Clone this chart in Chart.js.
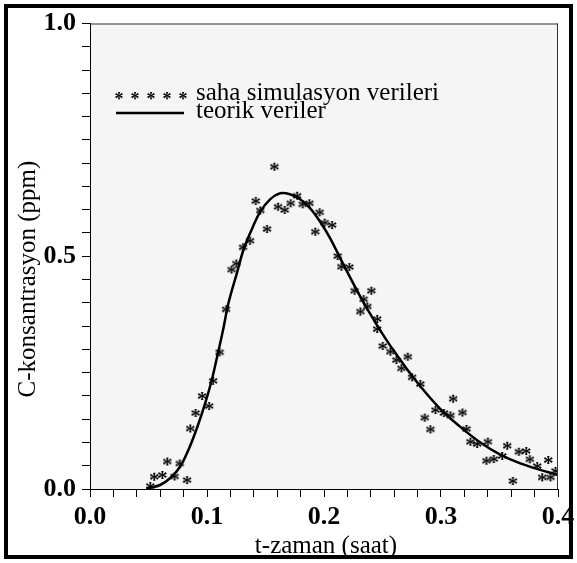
<!DOCTYPE html>
<html><head><meta charset="utf-8">
<script src="https://cdn.jsdelivr.net/npm/chart.js@4/dist/chart.umd.min.js"></script>
<style>html,body{margin:0;padding:0;background:#fff;overflow:hidden}#wrap{width:577px;height:563px;position:relative}</style>
</head><body><div id="wrap"><canvas id="c" width="577" height="563"></canvas></div>
<script>
// ---- data ----
const simT = [0.0513,0.0547,0.0616,0.0659,0.0721,0.0765,0.0827,0.0855,0.0901,0.0956,0.1016,0.1050,0.1106,0.1161,0.1208,0.1249,0.1306,0.1365,0.1415,0.1454,0.1511,0.1574,0.1605,0.1662,0.1713,0.1768,0.1816,0.1873,0.1924,0.1961,0.2004,0.2067,0.2115,0.2147,0.2215,0.2260,0.2309,0.2337,0.2369,0.2403,0.2453,0.2452,0.2500,0.2566,0.2617,0.2660,0.2714,0.2751,0.2822,0.2859,0.2908,0.2951,0.3023,0.3079,0.3102,0.3182,0.3216,0.3250,0.3307,0.3387,0.3398,0.3449,0.3521,0.3564,0.3612,0.3663,0.3726,0.3757,0.3820,0.3863,0.3915,0.3934,0.3977];
const simC = [0.0064,0.0264,0.0301,0.0591,0.0269,0.0548,0.0193,0.1300,0.1633,0.1998,0.1783,0.2324,0.2937,0.3860,0.4715,0.4844,0.5192,0.5334,0.6187,0.5983,0.5585,0.6924,0.6064,0.5994,0.6138,0.6301,0.6116,0.6138,0.5527,0.5944,0.5721,0.5671,0.5005,0.4776,0.4769,0.4260,0.3813,0.4077,0.3921,0.4260,0.3652,0.3437,0.3072,0.2950,0.2771,0.2593,0.2842,0.2400,0.2256,0.1532,0.1282,0.1697,0.1633,0.1579,0.1940,0.1643,0.1289,0.1016,0.0967,0.0608,0.1016,0.0644,0.0709,0.0930,0.0172,0.0801,0.0816,0.0638,0.0494,0.0251,0.0623,0.0251,0.0387];
const theoT = [0.0480,0.0499,0.0599,0.0684,0.0770,0.0841,0.0918,0.0984,0.1041,0.1090,0.1140,0.1183,0.1255,0.1311,0.1368,0.1454,0.1539,0.1625,0.1710,0.1796,0.1882,0.1967,0.2053,0.2138,0.2224,0.2309,0.2395,0.2480,0.2566,0.2765,0.2993,0.3165,0.3336,0.3507,0.3678,0.3849,0.4000];
const theoC = [0.0000,0.0015,0.0086,0.0230,0.0479,0.0838,0.1338,0.1841,0.2342,0.2880,0.3450,0.3989,0.4634,0.5134,0.5493,0.5951,0.6223,0.6352,0.6331,0.6223,0.6030,0.5742,0.5386,0.4960,0.4540,0.4140,0.3760,0.3410,0.3080,0.2390,0.1720,0.1335,0.1000,0.0740,0.0550,0.0410,0.0300];
const xTickLabels = ['0.0','0.1','0.2','0.3','0.4'];
const yTickLabels = ['0.0','0.5','1.0'];
const seriesNames = ['saha simulasyon verileri','teorik veriler'];
const xTitle = 't-zaman (saat)';
const yTitle = 'C-konsantrasyon (ppm)';

const SERIF = '"Liberation Serif","Times New Roman",serif';

function makeStar(size, fontPx, weight){
  const c = document.createElement('canvas'); c.width = c.height = size;
  const g = c.getContext('2d');
  g.font = weight + ' ' + fontPx + 'px ' + SERIF;
  g.fillStyle = '#000';
  g.textBaseline = 'alphabetic';
  const m = g.measureText('*');
  const w = m.actualBoundingBoxLeft + m.actualBoundingBoxRight;
  const h = m.actualBoundingBoxAscent + m.actualBoundingBoxDescent;
  g.fillText('*', size/2 - w/2 + m.actualBoundingBoxLeft, size/2 + h/2 - m.actualBoundingBoxDescent);
  return c;
}
const starPlot = makeStar(16, 21, 'bold');
const starLegend = makeStar(14, 18, 'bold');

const simPts = simT.map((t,i)=>({x:t, y:simC[i]}));
const theoPts = theoT.map((t,i)=>({x:t, y:theoC[i]}));

const decor = {
  id: 'decor',
  beforeDraw(chart){
    const {ctx, chartArea:a} = chart;
    ctx.save();
    ctx.fillStyle = '#fff'; ctx.fillRect(0,0,chart.width,chart.height);
    ctx.fillStyle = '#f5f5f5'; ctx.fillRect(a.left, a.top, a.right-a.left, a.bottom-a.top);
    ctx.restore();
  },
  afterDraw(chart){
    const {ctx, chartArea:a} = chart;
    ctx.save();
    // plot border top / right
    ctx.strokeStyle = '#333'; ctx.lineWidth = 1;
    ctx.beginPath();
    ctx.moveTo(a.left, a.top+0.5); ctx.lineTo(a.right, a.top+0.5);
    ctx.moveTo(a.right-0.5, a.top); ctx.lineTo(a.right-0.5, a.bottom);
    ctx.stroke();
    // outer frame
    ctx.strokeStyle = '#000'; ctx.lineWidth = 4;
    ctx.strokeRect(6, 6, 565, 551);
    // legend
    for (let i=0;i<5;i++) ctx.drawImage(starLegend, 119 + i*16 - 7, 96 - 7);
    ctx.strokeStyle = '#000'; ctx.lineWidth = 2.5;
    ctx.beginPath(); ctx.moveTo(116, 113); ctx.lineTo(184, 113); ctx.stroke();
    ctx.fillStyle = '#000';
    ctx.font = '25px ' + SERIF;
    ctx.textAlign = 'left'; ctx.textBaseline = 'alphabetic';
    ctx.fillText(seriesNames[0], 196, 100);
    ctx.fillText(seriesNames[1], 196, 118);
    // axis titles
    ctx.textAlign = 'center'; ctx.textBaseline = 'middle';
    ctx.fillText(xTitle, 326, 546);
    ctx.translate(28, 279); ctx.rotate(-Math.PI/2);
    ctx.fillText(yTitle, 0, 0);
    ctx.restore();
  }
};

new Chart(document.getElementById('c'), {
  type: 'scatter',
  data: {
    datasets: [
      { label: seriesNames[0], data: simPts, showLine: false, pointStyle: starPlot, pointRadius: 5, order: 1 },
      { label: seriesNames[1], data: theoPts, showLine: true, borderColor: '#000', borderWidth: 2.5, pointRadius: 0, tension: 0.35, order: 2 }
    ]
  },
  options: {
    responsive: false, animation: false, devicePixelRatio: 1, events: [],
    layout: { padding: { left: 0, top: 23.5, right: 19, bottom: 0 } },
    plugins: { legend: { display: false }, tooltip: { enabled: false }, title: { display: false } },
    scales: {
      x: {
        type: 'linear', min: 0, max: 0.4,
        ticks: { stepSize: 0.02, autoSkip: false, maxRotation: 0, padding: 5, color: '#000',
          font: { family: SERIF, size: 26, weight: 'bold' },
          callback: (v) => { const k = Math.round(v*10); return Math.abs(v*10-k) < 1e-6 ? xTickLabels[k] : ''; } },
        grid: { drawOnChartArea: false, drawTicks: true, tickLength: 8, color: '#000' },
        border: { display: true, color: '#000', width: 1 },
        afterFit: (s) => { s.height = 74; s.paddingLeft = 0; s.paddingRight = 0; }
      },
      y: {
        type: 'linear', min: 0, max: 1,
        ticks: { stepSize: 0.05, autoSkip: false, padding: 6, color: '#000',
          font: { family: SERIF, size: 26, weight: 'bold' },
          callback: (v) => { const k = Math.round(v*2); return Math.abs(v*2-k) < 1e-6 ? yTickLabels[k] : ''; } },
        grid: { drawOnChartArea: false, drawTicks: true, tickLength: 8, color: '#000' },
        border: { display: true, color: '#000', width: 1 },
        afterFit: (s) => { s.width = 90; s.paddingTop = 0; s.paddingBottom = 0; }
      }
    }
  },
  plugins: [decor]
});
</script></body></html>
